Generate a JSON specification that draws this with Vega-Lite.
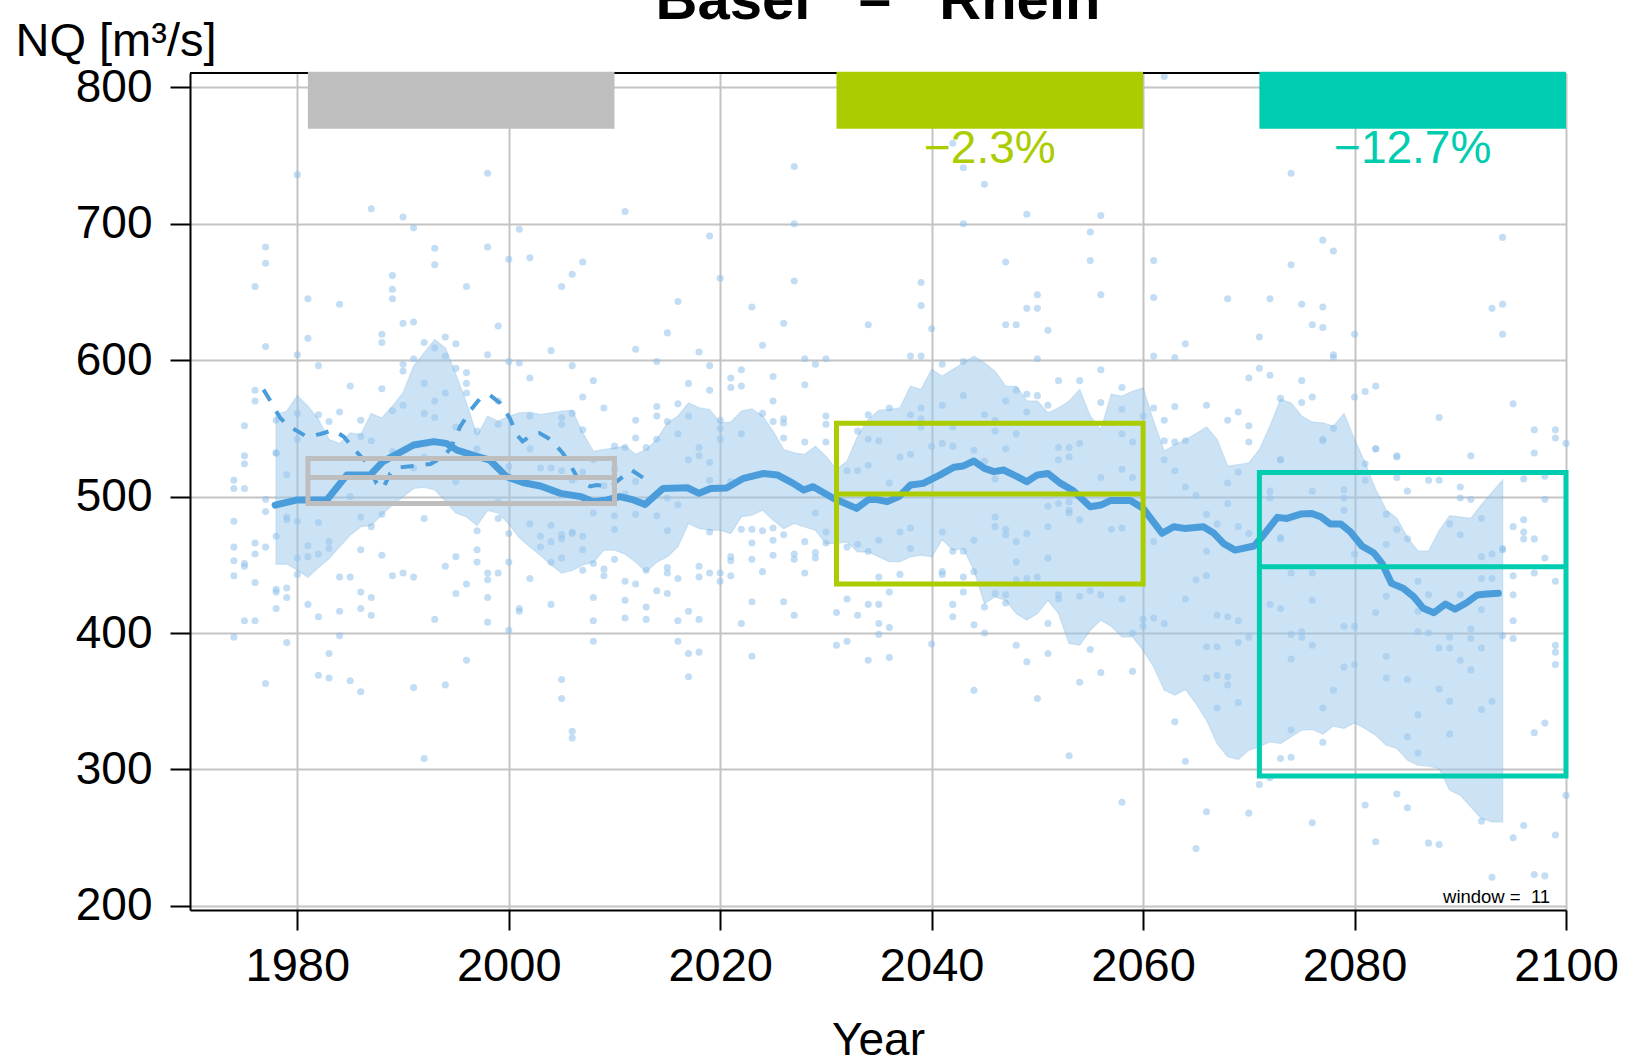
{
"$schema": "https://vega.github.io/schema/vega-lite/v6.json",
"width": 1376, "height": 837,
"autosize": {"type": "none"},
"padding": {"left": 190, "top": 73, "right": 63, "bottom": 154},
"background": "white",
"config": {"view": {"stroke": null}, "font": "Liberation Sans"},
"title": {"text": "Basel\u00a0\u00a0\u00a0–\u00a0\u00a0\u00a0Rhein", "fontSize": 58, "font": "Liberation Sans", "fontWeight": "bold", "anchor": "middle", "frame": "group", "offset": -14, "color": "black"},
"datasets": {
"pts": [
{"year":1980,"q":736},{"year":1998,"q":737},{"year":1987,"q":711},{"year":1990,"q":705},{"year":1991,"q":697},{"year":2011,"q":709},{"year":1977,"q":683},{"year":1977,"q":671},{"year":1976,"q":654},{"year":1993,"q":682},{"year":1993,"q":670},{"year":1998,"q":683},{"year":2001,"q":696},{"year":2000,"q":674},{"year":2002,"q":675},{"year":2007,"q":672},{"year":2006,"q":663},{"year":1989,"q":662},{"year":1989,"q":652},{"year":1989,"q":645},{"year":1981,"q":645},{"year":1984,"q":641},{"year":1996,"q":654},{"year":2005,"q":654},{"year":1990,"q":627},{"year":1991,"q":628},{"year":1988,"q":619},{"year":1988,"q":613},{"year":1999,"q":625},{"year":1994,"q":617},{"year":1995,"q":612},{"year":1992,"q":613},{"year":1993,"q":609},{"year":1977,"q":610},{"year":1981,"q":616},{"year":1980,"q":604},{"year":1982,"q":596},{"year":1998,"q":604},{"year":2000,"q":599},{"year":2001,"q":598},{"year":2004,"q":607},{"year":2012,"q":608},{"year":2006,"q":596},{"year":2002,"q":587},{"year":2008,"q":585},{"year":2007,"q":573},{"year":2009,"q":565},{"year":2012,"q":556},{"year":1994,"q":603},{"year":1995,"q":594},{"year":1996,"q":591},{"year":1996,"q":583},{"year":1996,"q":576},{"year":1990,"q":597},{"year":1990,"q":592},{"year":1991,"q":601},{"year":1992,"q":583},{"year":1994,"q":576},{"year":1993,"q":570},{"year":1992,"q":561},{"year":1993,"q":558},{"year":1990,"q":567},{"year":1999,"q":570},{"year":1988,"q":579},{"year":1985,"q":581},{"year":1976,"q":578},{"year":1976,"q":570},{"year":1978,"q":556},{"year":1975,"q":552},{"year":1980,"q":561},{"year":1982,"q":560},{"year":1983,"q":555},{"year":1984,"q":562},{"year":1986,"q":556},{"year":1987,"q":541},{"year":1989,"q":563},{"year":2005,"q":558},{"year":2005,"q":553},{"year":2006,"q":561},{"year":2002,"q":559},{"year":1999,"q":553},{"year":1997,"q":548},{"year":1995,"q":551},{"year":2007,"q":549},{"year":2010,"q":537},{"year":2011,"q":536},{"year":2013,"q":536},{"year":1980,"q":542},{"year":1978,"q":532},{"year":1975,"q":530},{"year":1975,"q":524},{"year":1974,"q":512},{"year":1974,"q":506},{"year":1975,"q":506},{"year":1979,"q":516},{"year":1986,"q":544},{"year":2004,"q":521},{"year":2005,"q":519},{"year":2007,"q":518},{"year":2008,"q":527},{"year":2009,"q":508},{"year":2012,"q":511},
{"year":1974,"q":482},{"year":1977,"q":498},{"year":1977,"q":489},{"year":1974,"q":463},{"year":1974,"q":453},{"year":1974,"q":442},{"year":1975,"q":451},{"year":1975,"q":449},{"year":1976,"q":466},{"year":1976,"q":458},{"year":1977,"q":463},{"year":1976,"q":437},{"year":1978,"q":471},{"year":1979,"q":483},{"year":1980,"q":482},{"year":1978,"q":432},{"year":1978,"q":430},{"year":1979,"q":433},{"year":1979,"q":426},{"year":1978,"q":418},{"year":1975,"q":409},{"year":1976,"q":409},{"year":1974,"q":397},{"year":1979,"q":393},{"year":1977,"q":363},{"year":1980,"q":443},{"year":1980,"q":455},{"year":1981,"q":456},{"year":1981,"q":464},{"year":1982,"q":481},{"year":1982,"q":458},{"year":1983,"q":467},{"year":1983,"q":462},{"year":1981,"q":421},{"year":1982,"q":412},{"year":1984,"q":441},{"year":1985,"q":441},{"year":1984,"q":416},{"year":1984,"q":398},{"year":1983,"q":385},{"year":1982,"q":369},{"year":1983,"q":367},{"year":1985,"q":365},{"year":1986,"q":357},{"year":1986,"q":461},{"year":1986,"q":430},{"year":1986,"q":418},{"year":1987,"q":426},{"year":1987,"q":413},{"year":1988,"q":457},{"year":1989,"q":442},{"year":1990,"q":444},{"year":1991,"q":441},{"year":1992,"q":484},{"year":1993,"q":410},{"year":1991,"q":360},{"year":1992,"q":308},{"year":1994,"q":449},{"year":1995,"q":456},{"year":1995,"q":429},{"year":1996,"q":436},{"year":1996,"q":380},{"year":1994,"q":362},{"year":1997,"q":475},{"year":1997,"q":461},{"year":1997,"q":452},{"year":1998,"q":444},{"year":1998,"q":439},{"year":1998,"q":426},{"year":1998,"q":408},{"year":1999,"q":444},{"year":1999,"q":484},{"year":2000,"q":452},{"year":2000,"q":402},{"year":2000,"q":473},{"year":2001,"q":418},{"year":2001,"q":416},{"year":2002,"q":440},{"year":2002,"q":480},{"year":2003,"q":471},{"year":2003,"q":463},{"year":2004,"q":479},{"year":2004,"q":467},{"year":2004,"q":452},{"year":2004,"q":421},{"year":2005,"q":472},{"year":2005,"q":455},{"year":2005,"q":366},{"year":2005,"q":352},{"year":2006,"q":474},{"year":2006,"q":328},{"year":2006,"q":323},{"year":2007,"q":471},{"year":2007,"q":461},{"year":2007,"q":446},{"year":2008,"q":451},{"year":2008,"q":426},{"year":2008,"q":409},{"year":2008,"q":394},{"year":2009,"q":447},{"year":2009,"q":442},{"year":2010,"q":486},{"year":2010,"q":476},{"year":2010,"q":454},{"year":2011,"q":438},{"year":2011,"q":424},{"year":2011,"q":411},{"year":2012,"q":487},{"year":2012,"q":436},{"year":2013,"q":446},{"year":2013,"q":419},{"year":2013,"q":410},
{"year":1978,"q":532},{"year":1979,"q":485},{"year":1985,"q":500},{"year":1986,"q":485},{"year":1987,"q":478},{"year":1988,"q":487},{"year":1995,"q":511},{"year":1997,"q":535},{"year":1989,"q":533},{"year":1991,"q":521},{"year":1992,"q":529},{"year":1993,"q":540},{"year":1996,"q":529},{"year":2000,"q":522},{"year":1999,"q":496},
{"year":2005,"q":469},{"year":2006,"q":473},{"year":2008,"q":488},{"year":2011,"q":502},{"year":2015,"q":499},{"year":2003,"q":521},{"year":2006,"q":512},{"year":2010,"q":520},{"year":2002,"q":535},{"year":2012,"q":543},{"year":2014,"q":542},
{"year":2027,"q":742},{"year":2042,"q":759},{"year":2043,"q":741},{"year":2045,"q":729},{"year":2049,"q":707},{"year":2056,"q":706},{"year":2055,"q":694},{"year":2055,"q":673},{"year":2056,"q":648},{"year":2027,"q":700},{"year":2043,"q":700},{"year":2019,"q":691},{"year":2020,"q":660},{"year":2027,"q":658},{"year":2016,"q":643},{"year":2023,"q":639},{"year":2026,"q":627},{"year":2034,"q":626},{"year":2039,"q":657},{"year":2039,"q":640},{"year":2040,"q":623},{"year":2047,"q":672},{"year":2050,"q":648},{"year":2049,"q":638},{"year":2050,"q":638},{"year":2047,"q":626},{"year":2048,"q":626},{"year":2051,"q":622},{"year":2015,"q":620},{"year":2018,"q":606},{"year":2014,"q":599},{"year":2024,"q":611},{"year":2028,"q":601},{"year":2029,"q":597},{"year":2030,"q":601},{"year":2038,"q":603},{"year":2039,"q":603},{"year":2041,"q":597},{"year":2043,"q":599},{"year":2050,"q":601},{"year":2019,"q":596},{"year":2019,"q":578},{"year":2017,"q":583},{"year":2021,"q":587},{"year":2021,"q":580},{"year":2022,"q":593},{"year":2022,"q":581},{"year":2025,"q":588},{"year":2025,"q":570},{"year":2028,"q":582},{"year":2014,"q":566},{"year":2014,"q":559},{"year":2016,"q":568},{"year":2015,"q":555},{"year":2017,"q":559},{"year":2016,"q":546},{"year":2020,"q":556},{"year":2020,"q":550},{"year":2020,"q":542},{"year":2022,"q":546},{"year":2024,"q":561},{"year":2025,"q":555},{"year":2026,"q":557},{"year":2026,"q":554},{"year":2026,"q":543},{"year":2028,"q":540},{"year":2030,"q":559},{"year":2030,"q":553},{"year":2030,"q":540},{"year":2018,"q":536},{"year":2018,"q":530},{"year":2017,"q":527},{"year":2019,"q":525},{"year":2034,"q":560},{"year":2036,"q":565},{"year":2038,"q":560},{"year":2039,"q":565},{"year":2039,"q":557},{"year":2041,"q":567},{"year":2043,"q":574},{"year":2045,"q":560},{"year":2047,"q":570},{"year":2048,"q":578},{"year":2049,"q":575},{"year":2049,"q":562},{"year":2050,"q":574},{"year":2051,"q":567},{"year":2052,"q":585},{"year":2054,"q":585},{"year":2056,"q":593},{"year":2056,"q":569},{"year":2033,"q":548},{"year":2034,"q":542},{"year":2035,"q":541},{"year":2039,"q":551},{"year":2040,"q":537},{"year":2042,"q":537},{"year":2044,"q":534},{"year":2046,"q":556},{"year":2047,"q":535},{"year":2048,"q":546},{"year":2052,"q":536},{"year":2053,"q":536},{"year":2054,"q":539},{"year":2052,"q":527},{"year":2053,"q":529},{"year":2037,"q":529},{"year":2038,"q":531},{"year":2032,"q":519},{"year":2033,"q":519},{"year":2034,"q":523},{"year":2021,"q":511},{"year":2019,"q":512},{"year":2036,"q":510},{"year":2045,"q":526},{"year":2046,"q":513},{"year":2056,"q":514},
{"year":2014,"q":486},{"year":2015,"q":475},{"year":2016,"q":494},{"year":2015,"q":448},{"year":2015,"q":444},{"year":2014,"q":431},{"year":2015,"q":429},{"year":2016,"q":440},{"year":2016,"q":409},{"year":2016,"q":394},{"year":2017,"q":416},{"year":2017,"q":385},{"year":2017,"q":368},{"year":2018,"q":449},{"year":2018,"q":441},{"year":2018,"q":410},{"year":2018,"q":386},{"year":2019,"q":474},{"year":2019,"q":444},{"year":2020,"q":444},{"year":2020,"q":438},{"year":2021,"q":456},{"year":2021,"q":453},{"year":2021,"q":442},{"year":2022,"q":476},{"year":2022,"q":407},{"year":2023,"q":476},{"year":2023,"q":466},{"year":2023,"q":454},{"year":2023,"q":423},{"year":2023,"q":383},{"year":2024,"q":475},{"year":2024,"q":445},{"year":2025,"q":468},{"year":2025,"q":457},{"year":2025,"q":477},{"year":2026,"q":472},{"year":2026,"q":423},{"year":2027,"q":458},{"year":2027,"q":454},{"year":2027,"q":413},{"year":2028,"q":467},{"year":2028,"q":444},{"year":2029,"q":488},{"year":2029,"q":459},{"year":2029,"q":455},{"year":2030,"q":474},{"year":2030,"q":466},{"year":2031,"q":415},{"year":2031,"q":391},{"year":2032,"q":463},{"year":2032,"q":425},{"year":2032,"q":394},{"year":2033,"q":465},{"year":2033,"q":413},{"year":2034,"q":460},{"year":2034,"q":421},{"year":2034,"q":380},{"year":2035,"q":468},{"year":2035,"q":441},{"year":2035,"q":421},{"year":2035,"q":407},{"year":2035,"q":399},{"year":2036,"q":430},{"year":2036,"q":404},{"year":2036,"q":382},{"year":2037,"q":474},{"year":2037,"q":443},{"year":2038,"q":477},{"year":2038,"q":462},{"year":2040,"q":392},{"year":2041,"q":474},{"year":2041,"q":445},{"year":2041,"q":443},{"year":2042,"q":460},{"year":2042,"q":421},{"year":2042,"q":412},{"year":2043,"q":460},{"year":2043,"q":441},{"year":2043,"q":430},{"year":2044,"q":468},{"year":2044,"q":445},{"year":2044,"q":406},{"year":2044,"q":358},{"year":2045,"q":419},{"year":2045,"q":400},{"year":2046,"q":485},{"year":2046,"q":478},{"year":2046,"q":429},{"year":2047,"q":476},{"year":2047,"q":428},{"year":2047,"q":422},{"year":2048,"q":452},{"year":2048,"q":439},{"year":2048,"q":391},{"year":2049,"q":440},{"year":2049,"q":379},{"year":2050,"q":441},{"year":2050,"q":352},{"year":2051,"q":493},{"year":2051,"q":455},{"year":2051,"q":407},{"year":2051,"q":385},{"year":2052,"q":495},{"year":2052,"q":428},{"year":2052,"q":425},{"year":2053,"q":496},{"year":2053,"q":490},{"year":2053,"q":310},{"year":2054,"q":483},{"year":2054,"q":427},{"year":2054,"q":364},{"year":2055,"q":431},{"year":2055,"q":388},{"year":2056,"q":428},{"year":2056,"q":371},{"year":2057,"q":476},
{"year":2046,"q":548},{"year":2054,"q":500},{"year":2053,"q":488},{"year":2058,"q":477},{"year":2042,"q":551},{"year":2041,"q":539},{"year":2047,"q":472},{"year":2048,"q":467},{"year":2049,"q":473},{"year":2051,"q":478},
{"year":2062,"q":808},{"year":2074,"q":737},{"year":2061,"q":673},{"year":2061,"q":646},{"year":2068,"q":645},{"year":2072,"q":645},{"year":2074,"q":670},{"year":2077,"q":688},{"year":2078,"q":680},{"year":2075,"q":641},{"year":2077,"q":639},{"year":2076,"q":626},{"year":2077,"q":624},{"year":2071,"q":617},{"year":2064,"q":612},{"year":2080,"q":619},{"year":2094,"q":690},{"year":2094,"q":641},{"year":2093,"q":638},{"year":2094,"q":619},{"year":2061,"q":603},{"year":2063,"q":602},{"year":2078,"q":604},{"year":2078,"q":602},{"year":2071,"q":594},{"year":2070,"q":587},{"year":2072,"q":589},{"year":2075,"q":585},{"year":2058,"q":580},{"year":2073,"q":572},{"year":2075,"q":569},{"year":2076,"q":573},{"year":2080,"q":573},{"year":2081,"q":577},{"year":2082,"q":581},{"year":2095,"q":568},{"year":2058,"q":564},{"year":2060,"q":559},{"year":2061,"q":565},{"year":2063,"q":566},{"year":2066,"q":567},{"year":2062,"q":556},{"year":2068,"q":556},{"year":2069,"q":562},{"year":2070,"q":552},{"year":2070,"q":540},{"year":2088,"q":558},{"year":2097,"q":549},{"year":2099,"q":549},{"year":2099,"q":543},{"year":2100,"q":539},{"year":2062,"q":541},{"year":2063,"q":540},{"year":2064,"q":541},{"year":2059,"q":540},{"year":2078,"q":550},{"year":2077,"q":542},{"year":2082,"q":535},{"year":2084,"q":530},{"year":2091,"q":530},{"year":2097,"q":532},{"year":2062,"q":527},{"year":2063,"q":519},{"year":2068,"q":510},{"year":2069,"q":518},{"year":2073,"q":527},{"year":2081,"q":524},{"year":2087,"q":512},{"year":2088,"q":512},{"year":2090,"q":507},{"year":2096,"q":513},{"year":2098,"q":515},{"year":2084,"q":514},{"year":2058,"q":520},{"year":2059,"q":514},
{"year":2090,"q":499},{"year":2091,"q":498},{"year":2098,"q":498},{"year":2092,"q":484},{"year":2095,"q":478},{"year":2096,"q":483},{"year":2096,"q":474},{"year":2096,"q":469},{"year":2097,"q":469},{"year":2094,"q":461},{"year":2093,"q":458},{"year":2098,"q":455},{"year":2095,"q":442},{"year":2097,"q":444},{"year":2099,"q":438},{"year":2095,"q":428},{"year":2095,"q":409},{"year":2095,"q":396},{"year":2099,"q":391},{"year":2099,"q":386},{"year":2099,"q":377},{"year":2097,"q":327},{"year":2098,"q":334},{"year":2095,"q":250},{"year":2096,"q":259},{"year":2099,"q":252},{"year":2097,"q":223},{"year":2098,"q":222},{"year":2093,"q":221},{"year":2092,"q":262},{"year":2100,"q":281},
{"year":2061,"q":467},{"year":2062,"q":407},{"year":2061,"q":411},{"year":2060,"q":410},{"year":2060,"q":405},{"year":2058,"q":425},{"year":2059,"q":400},{"year":2059,"q":372},{"year":2058,"q":276},{"year":2064,"q":425},{"year":2065,"q":439},{"year":2066,"q":442},{"year":2066,"q":460},{"year":2063,"q":335},{"year":2064,"q":306},{"year":2065,"q":242},{"year":2066,"q":269},{"year":2066,"q":390},{"year":2067,"q":413},{"year":2068,"q":412},{"year":2069,"q":409},{"year":2067,"q":390},{"year":2067,"q":369},{"year":2066,"q":367},{"year":2068,"q":368},{"year":2068,"q":362},{"year":2067,"q":345},{"year":2069,"q":349},{"year":2069,"q":393},{"year":2070,"q":397},{"year":2070,"q":268},{"year":2071,"q":289},{"year":2072,"q":294},{"year":2073,"q":308},{"year":2074,"q":309},{"year":2074,"q":329},{"year":2074,"q":381},{"year":2074,"q":399},{"year":2075,"q":401},{"year":2075,"q":397},{"year":2076,"q":391},{"year":2076,"q":424},{"year":2073,"q":418},{"year":2072,"q":421},{"year":2073,"q":470},{"year":2074,"q":444},{"year":2076,"q":444},{"year":2077,"q":345},{"year":2077,"q":320},{"year":2076,"q":261},{"year":2078,"q":358},{"year":2079,"q":405},{"year":2080,"q":405},{"year":2079,"q":375},{"year":2080,"q":377},{"year":2081,"q":274},{"year":2082,"q":247},{"year":2082,"q":415},{"year":2083,"q":427},{"year":2083,"q":383},{"year":2083,"q":367},{"year":2084,"q":282},{"year":2085,"q":366},{"year":2085,"q":324},{"year":2085,"q":272},{"year":2086,"q":340},{"year":2086,"q":312},{"year":2086,"q":416},{"year":2086,"q":401},{"year":2087,"q":400},{"year":2087,"q":246},{"year":2088,"q":245},{"year":2088,"q":389},{"year":2088,"q":359},{"year":2089,"q":397},{"year":2089,"q":389},{"year":2089,"q":350},{"year":2089,"q":326},{"year":2090,"q":380},{"year":2090,"q":428},{"year":2091,"q":403},{"year":2091,"q":396},{"year":2091,"q":373},{"year":2092,"q":417},{"year":2092,"q":389},{"year":2092,"q":344},{"year":2093,"q":350},{"year":2094,"q":398},{"year":2093,"q":440},{"year":2092,"q":440},
{"year":2072,"q":504},{"year":2072,"q":499},{"year":2073,"q":527},{"year":2073,"q":469},{"year":2076,"q":504},{"year":2077,"q":541},{"year":2079,"q":505},{"year":2079,"q":499},{"year":2079,"q":490},{"year":2080,"q":458},{"year":2081,"q":512},{"year":2082,"q":535},{"year":2083,"q":487},{"year":2083,"q":465},{"year":2084,"q":529},{"year":2084,"q":476},{"year":2085,"q":504},{"year":2085,"q":469},{"year":2086,"q":438},{"year":2087,"q":428},{"year":2089,"q":480},{"year":2090,"q":472},{"year":2092,"q":456},{"year":2094,"q":462},
{"year":2058,"q":546},{"year":2064,"q":507},{"year":2065,"q":501},{"year":2066,"q":487},{"year":2067,"q":480},{"year":2068,"q":495},{"year":2069,"q":478},{"year":2070,"q":473}
],
"band": [
{"year":1978,"lo":450.6,"hi":560.1},{"year":1979,"lo":450.6,"hi":562.5},{"year":1980,"lo":446.2,"hi":574.0},{"year":1981,"lo":441,"hi":566.2},{"year":1982,"lo":448,"hi":556.4},{"year":1983,"lo":454.7,"hi":541.8},{"year":1984,"lo":463.3,"hi":538.8},{"year":1985,"lo":471.8,"hi":546.6},{"year":1986,"lo":478,"hi":545.4},{"year":1987,"lo":479,"hi":560.8},{"year":1988,"lo":487,"hi":557.6},{"year":1989,"lo":494,"hi":566.2},{"year":1990,"lo":500,"hi":576.0},{"year":1991,"lo":506,"hi":595.5},{"year":1992,"lo":507,"hi":605.3},{"year":1993,"lo":505,"hi":615.0},{"year":1994,"lo":497,"hi":608.9},{"year":1995,"lo":488,"hi":589.4},{"year":1996,"lo":485.3,"hi":568.6},{"year":1997,"lo":479,"hi":544.2},{"year":1998,"lo":490,"hi":558.9},{"year":1999,"lo":488,"hi":555.2},{"year":2000,"lo":480,"hi":558.9},{"year":2001,"lo":470,"hi":561.3},{"year":2002,"lo":463.3,"hi":561.8},{"year":2003,"lo":457,"hi":560.1},{"year":2004,"lo":450,"hi":561.3},{"year":2005,"lo":444,"hi":562.5},{"year":2006,"lo":446,"hi":563.2},{"year":2007,"lo":450,"hi":546.6},{"year":2008,"lo":452,"hi":533.2},{"year":2009,"lo":460.8,"hi":534.4},{"year":2010,"lo":460.8,"hi":535.6},{"year":2011,"lo":458,"hi":536.9},{"year":2012,"lo":452,"hi":530.8},{"year":2013,"lo":445,"hi":534.4},{"year":2014,"lo":452,"hi":541.7},{"year":2015,"lo":456,"hi":554.0},{"year":2016,"lo":463.3,"hi":558.9},{"year":2017,"lo":480.4,"hi":568.6},{"year":2018,"lo":476.7,"hi":565.0},{"year":2019,"lo":475.5,"hi":563.7},{"year":2020,"lo":475.5,"hi":554.0},{"year":2021,"lo":473.0,"hi":554.5},{"year":2022,"lo":485.3,"hi":562.5},{"year":2023,"lo":486.5,"hi":564.2},{"year":2024,"lo":490.1,"hi":558.9},{"year":2025,"lo":482.8,"hi":547.9},{"year":2026,"lo":476.7,"hi":534.4},{"year":2027,"lo":480.4,"hi":532.0},{"year":2028,"lo":477.9,"hi":530.8},{"year":2029,"lo":475.5,"hi":536.9},{"year":2030,"lo":465.7,"hi":529.5},{"year":2031,"lo":465.7,"hi":519.8},{"year":2032,"lo":466.9,"hi":525.9},{"year":2033,"lo":459.6,"hi":544.2},{"year":2034,"lo":459.6,"hi":556.4},{"year":2035,"lo":455.9,"hi":563.2},{"year":2036,"lo":452.3,"hi":563.7},{"year":2037,"lo":452.3,"hi":565.0},{"year":2038,"lo":455.9,"hi":580.8},{"year":2039,"lo":457.2,"hi":578.4},{"year":2040,"lo":455.9,"hi":593.1},{"year":2041,"lo":468.6,"hi":588.2},{"year":2042,"lo":460.8,"hi":593.1},{"year":2043,"lo":462.0,"hi":597.9},{"year":2044,"lo":446.2,"hi":602.8},{"year":2045,"lo":421.7,"hi":597.9},{"year":2046,"lo":426.6,"hi":591.8},{"year":2047,"lo":424.2,"hi":580.8},{"year":2048,"lo":414.4,"hi":580.8},{"year":2049,"lo":409.5,"hi":569.9},{"year":2050,"lo":414.4,"hi":569.9},{"year":2051,"lo":424.2,"hi":561.3},{"year":2052,"lo":414.4,"hi":565.0},{"year":2053,"lo":392.4,"hi":569.9},{"year":2054,"lo":391.2,"hi":578.4},{"year":2055,"lo":402.2,"hi":558.9},{"year":2056,"lo":409.5,"hi":549.1},{"year":2057,"lo":405,"hi":575},{"year":2058,"lo":397.3,"hi":573.5},{"year":2059,"lo":397.3,"hi":577.2},{"year":2060,"lo":387.5,"hi":579.6},{"year":2061,"lo":375.3,"hi":555},{"year":2062,"lo":358.2,"hi":533.2},{"year":2063,"lo":354.6,"hi":538},{"year":2064,"lo":358.7,"hi":541.7},{"year":2065,"lo":348.4,"hi":546},{"year":2066,"lo":336.2,"hi":551},{"year":2067,"lo":319.1,"hi":541.8},{"year":2068,"lo":309.3,"hi":522.2},{"year":2069,"lo":307.4,"hi":523.4},{"year":2070,"lo":314.2,"hi":524.6},{"year":2071,"lo":316.7,"hi":534.4},{"year":2072,"lo":320.3,"hi":551.5},{"year":2073,"lo":319.1,"hi":571.1},{"year":2074,"lo":324.0,"hi":568.6},{"year":2075,"lo":328.9,"hi":558.9},{"year":2076,"lo":329.4,"hi":554.5},{"year":2077,"lo":326.0,"hi":554.0},{"year":2078,"lo":331.8,"hi":551.5},{"year":2079,"lo":330.1,"hi":560.8},{"year":2080,"lo":334.3,"hi":541.8},{"year":2081,"lo":330.1,"hi":524.6},{"year":2082,"lo":325.2,"hi":505.1},{"year":2083,"lo":317.9,"hi":490.2},{"year":2084,"lo":315.5,"hi":484.1},{"year":2085,"lo":306.9,"hi":470},{"year":2086,"lo":303.2,"hi":460},{"year":2087,"lo":302.5,"hi":460},{"year":2088,"lo":300.8,"hi":475},{"year":2089,"lo":284.9,"hi":486},{"year":2090,"lo":281.2,"hi":485},{"year":2091,"lo":272.7,"hi":484},{"year":2092,"lo":264.1,"hi":494},{"year":2093,"lo":261.7,"hi":503},{"year":2094,"lo":261.7,"hi":512}
],
"mean": [
{"year":1977.9,"q":493.8},{"year":1980,"q":497.6},{"year":1982.8,"q":497.6},{"year":1984.7,"q":515.9},{"year":1986.9,"q":515.9},{"year":1988.1,"q":525.6},{"year":1991,"q":537.8},{"year":1992.9,"q":540.3},{"year":1994.1,"q":539},{"year":1995.1,"q":534.1},{"year":1996.6,"q":530.5},{"year":1998.2,"q":526.8},{"year":1999.8,"q":514.6},{"year":2001.4,"q":510.2},{"year":2003,"q":507.8},{"year":2004.9,"q":502.4},{"year":2006.8,"q":500},{"year":2008,"q":496.3},{"year":2009.3,"q":497.6},{"year":2010.5,"q":500},{"year":2011.8,"q":497.6},{"year":2012.9,"q":494.3},{"year":2014.6,"q":506},{"year":2016.9,"q":506.5},{"year":2018,"q":502.4},{"year":2019.1,"q":506},{"year":2020.6,"q":506.3},{"year":2022.2,"q":513.4},{"year":2024.1,"q":517},{"year":2025.4,"q":515.9},{"year":2026.9,"q":509.7},{"year":2027.9,"q":504.8},{"year":2028.8,"q":507.3},{"year":2030.7,"q":498.8},{"year":2032.9,"q":491.4},{"year":2034.2,"q":498.8},{"year":2035.8,"q":496.3},{"year":2036.9,"q":500},{"year":2038,"q":508.5},{"year":2039.2,"q":509.7},{"year":2040.8,"q":515.9},{"year":2042.1,"q":521.5},{"year":2043,"q":522.5},{"year":2044,"q":526.1},{"year":2045,"q":520.7},{"year":2045.9,"q":518.3},{"year":2046.8,"q":519.5},{"year":2048.1,"q":514.6},{"year":2049,"q":510.9},{"year":2050,"q":515.9},{"year":2051,"q":517},{"year":2052.2,"q":509.7},{"year":2053.4,"q":504.3},{"year":2055,"q":492.6},{"year":2056,"q":493.8},{"year":2056.9,"q":497.1},{"year":2058.8,"q":497.1},{"year":2060,"q":491.4},{"year":2061.8,"q":473.1},{"year":2062.9,"q":477.9},{"year":2063.9,"q":476.7},{"year":2065.7,"q":477.9},{"year":2066.7,"q":473.1},{"year":2067.6,"q":465.7},{"year":2068.7,"q":460.8},{"year":2070.5,"q":463.8},{"year":2071.4,"q":471.9},{"year":2072.7,"q":484.8},{"year":2073.6,"q":484},{"year":2074.9,"q":487.2},{"year":2075.9,"q":487.7},{"year":2076.8,"q":485.2},{"year":2077.7,"q":479.9},{"year":2078.7,"q":479.9},{"year":2079.6,"q":474.3},{"year":2080.7,"q":463.8},{"year":2081.8,"q":458.9},{"year":2082.6,"q":451.1},{"year":2083.5,"q":436.4},{"year":2084.6,"q":432.8},{"year":2085.6,"q":426.6},{"year":2086.5,"q":418.1},{"year":2087.5,"q":414.9},{"year":2088.6,"q":421.3},{"year":2089.5,"q":417.4},{"year":2090.6,"q":422.2},{"year":2091.6,"q":427.9},{"year":2092.5,"q":428.6},{"year":2093.6,"q":429.1}
],
"obs": [
{"year":1976.8,"q":578.4},{"year":1977.4,"q":570.8},{"year":1978.4,"q":557.4},{"year":1979.3,"q":551.2},{"year":1980.9,"q":543.9},{"year":1982.2,"q":545.9},{"year":1983.4,"q":548.8},{"year":1984.4,"q":543.9},{"year":1985.3,"q":535.4},{"year":1986.6,"q":524.4},{"year":1987.5,"q":509.7},{"year":1988.1,"q":506},{"year":1988.8,"q":517},{"year":1989.7,"q":521.5},{"year":1991,"q":522.5},{"year":1992.6,"q":523.9},{"year":1993.8,"q":529.3},{"year":1994.5,"q":535.4},{"year":1995.4,"q":551.2},{"year":1996.4,"q":563.5},{"year":1997.3,"q":572},{"year":1998.2,"q":574.5},{"year":1999.2,"q":568.4},{"year":2000.1,"q":557.4},{"year":2000.8,"q":545},{"year":2001.3,"q":540.5},{"year":2002.2,"q":545},{"year":2002.9,"q":546.6},{"year":2004,"q":541.7},{"year":2005.1,"q":532},{"year":2005.8,"q":523.4},{"year":2006.7,"q":511.2},{"year":2007.7,"q":507.5},{"year":2008.3,"q":508.5},{"year":2009.6,"q":507.3},{"year":2010.2,"q":511},{"year":2011.6,"q":519.5},{"year":2012.8,"q":513.4}
],
"periods": [
{"period":"1981–2010","start":1981,"end":2010,"low":495,"mid":514.1,"high":528,"label":null,"labelYear":null},
{"period":"2031–2060","start":2031,"end":2060,"low":435.9,"mid":501.9,"high":553.7,"label":"−2.3%","labelYear":2045.5},
{"period":"2071–2100","start":2071,"end":2100,"low":295.2,"mid":448.6,"high":517.7,"label":"−12.7%","labelYear":2085.5}
]
},
"layer": [
{"data": {"name": "pts"},
 "mark": {"type": "circle", "color": "#92C3EB", "opacity": 0.55, "size": 50},
 "encoding": {
  "x": {"field": "year", "type": "quantitative", "scale": {"domain": [1969.85, 2100], "nice": false, "zero": false},
        "axis": {"values": [1980, 2000, 2020, 2040, 2060, 2080, 2100], "format": "d", "title": "Year", "grid": true, "gridColor": "#C4C4C4", "gridWidth": 2,
                 "domainColor": "black", "domainWidth": 2, "tickColor": "black", "tickWidth": 2, "tickSize": 20,
                 "labelFontSize": 47, "labelColor": "black", "labelPadding": 13, "labelFlush": false, "labelFont": "Liberation Sans",
                 "titleFontSize": 46, "titleFontWeight": "normal", "titleColor": "black", "titleFont": "Liberation Sans", "titleY": 144, "titleBaseline": "alphabetic"}},
  "y": {"field": "q", "type": "quantitative", "scale": {"domain": [197, 810.5], "nice": false, "zero": false},
        "axis": {"values": [200, 300, 400, 500, 600, 700, 800], "title": "NQ [m³/s]", "grid": true, "gridColor": "#C4C4C4", "gridWidth": 2,
                 "domainColor": "black", "domainWidth": 2, "tickColor": "black", "tickWidth": 2, "tickSize": 20,
                 "labelFontSize": 46, "labelColor": "black", "labelPadding": 18, "labelFont": "Liberation Sans",
                 "titleFontSize": 47, "titleFontWeight": "normal", "titleColor": "black", "titleFont": "Liberation Sans",
                 "titleAngle": 0, "titleAlign": "left", "titleBaseline": "alphabetic", "titleX": -175, "titleY": -18}}
 }},
{"data": {"name": "band"},
 "mark": {"type": "area", "color": "#9BC8EC", "opacity": 0.5, "stroke": "#6FAEE0", "strokeWidth": 1.3, "strokeOpacity": 0.7},
 "encoding": {
  "x": {"field": "year", "type": "quantitative"},
  "y": {"field": "lo", "type": "quantitative"},
  "y2": {"field": "hi"}
 }},
{"data": {"name": "mean"},
 "mark": {"type": "line", "color": "#4A9DDA", "strokeWidth": 7, "strokeJoin": "round", "strokeCap": "round"},
 "encoding": {
  "x": {"field": "year", "type": "quantitative"},
  "y": {"field": "q", "type": "quantitative"}
 }},
{"data": {"name": "obs"},
 "mark": {"type": "line", "color": "#4A9DDA", "strokeWidth": 4, "strokeDash": [13, 12]},
 "encoding": {
  "x": {"field": "year", "type": "quantitative"},
  "y": {"field": "q", "type": "quantitative"}
 }},
{"data": {"name": "periods"},
 "mark": {"type": "rect", "filled": false, "strokeWidth": 5},
 "encoding": {
  "x": {"field": "start", "type": "quantitative"},
  "x2": {"field": "end"},
  "y": {"field": "low", "type": "quantitative"},
  "y2": {"field": "high"},
  "color": {"field": "period", "type": "nominal", "scale": {"domain": ["1981–2010", "2031–2060", "2071–2100"], "range": ["#BEBEBE", "#AACC00", "#00CDB0"]}, "legend": null}
 }},
{"data": {"name": "periods"},
 "mark": {"type": "rule", "strokeWidth": 5},
 "encoding": {
  "x": {"field": "start", "type": "quantitative"},
  "x2": {"field": "end"},
  "y": {"field": "mid", "type": "quantitative"},
  "color": {"field": "period", "type": "nominal", "legend": null}
 }},
{"data": {"values": [{}]},
 "mark": {"type": "rule", "color": "black", "strokeWidth": 2},
 "encoding": {
  "x": {"datum": 1969.85, "type": "quantitative"},
  "x2": {"datum": 2100},
  "y": {"datum": 810.5, "type": "quantitative"}
 }},
{"data": {"name": "periods"},
 "mark": {"type": "rect"},
 "encoding": {
  "x": {"field": "start", "type": "quantitative"},
  "x2": {"field": "end"},
  "y": {"datum": 769.7, "type": "quantitative"},
  "y2": {"datum": 811.5},
  "color": {"field": "period", "type": "nominal", "legend": null}
 }},
{"data": {"name": "periods"},
 "transform": [{"filter": "datum.label != null"}],
 "mark": {"type": "text", "fontSize": 46, "font": "Liberation Sans", "align": "center", "baseline": "alphabetic"},
 "encoding": {
  "x": {"field": "labelYear", "type": "quantitative"},
  "y": {"datum": 744.5, "type": "quantitative"},
  "text": {"field": "label"},
  "color": {"field": "period", "type": "nominal", "legend": null}
 }},
{"data": {"values": [{}]},
 "mark": {"type": "text", "text": "window =\u00a0\u00a011", "fontSize": 18.5, "font": "Liberation Sans", "align": "right", "baseline": "alphabetic", "color": "black"},
 "encoding": {
  "x": {"datum": 2098.5, "type": "quantitative"},
  "y": {"datum": 202.3, "type": "quantitative"}
 }}
]
}
